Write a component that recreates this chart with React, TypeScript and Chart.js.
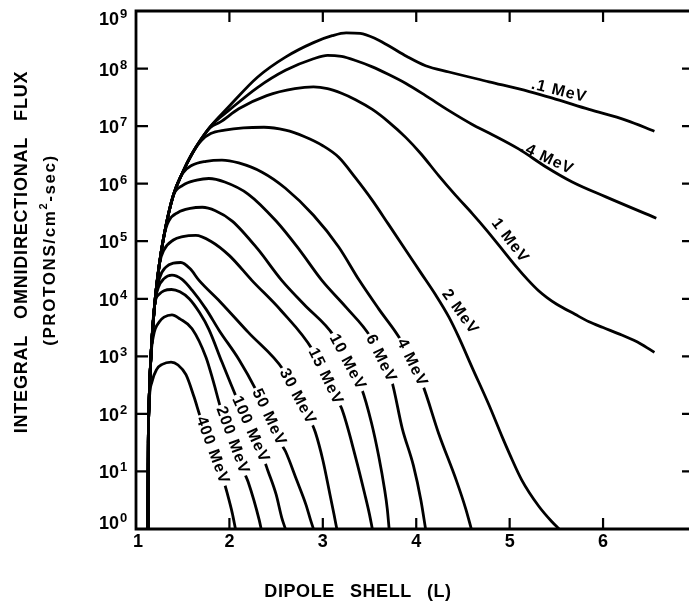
import React, { useEffect, useRef } from 'react';
import { Chart, registerables } from 'chart.js';

Chart.register(...registerables);

type Pt = [number, number];

// ---- data: [dipole shell L, integral omnidirectional flux (protons/cm^2-sec)] ----
const seriesNames = ['.1 MeV', '.4 MeV', '1 MeV', '2 MeV', '4 MeV', '6 MeV', '10 MeV', '15 MeV', '30 MeV', '50 MeV', '100 MeV', '200 MeV', '400 MeV'];

const mev0p1: Pt[] = [
  [1.128, 1], [1.132, 31.6], [1.14, 158], [1.16, 1.0e3], [1.2, 7.94e3], [1.25, 3.98e4], [1.3, 1.26e5], [1.4, 6.31e5],
  [1.5, 1.58e6], [1.6, 3.31e6], [1.7, 6.03e6], [1.8, 1.0e7], [2.0, 2.24e7], [2.3, 7.08e7], [2.6, 1.58e8], [2.9, 2.82e8],
  [3.1, 3.72e8], [3.25, 4.17e8], [3.4, 4.07e8], [3.55, 3.39e8], [3.7, 2.51e8], [3.9, 1.62e8], [4.1, 1.12e8],
  [4.35, 8.71e7], [4.78, 5.89e7], [5.21, 3.98e7], [5.45, 3.09e7], [5.85, 1.95e7], [6.25, 1.26e7], [6.55, 8.13e6],
];
const mev0p4: Pt[] = [
  [1.128, 1], [1.132, 31.6], [1.14, 158], [1.16, 1.0e3], [1.2, 7.94e3], [1.25, 3.98e4], [1.3, 1.26e5], [1.4, 6.31e5],
  [1.5, 1.58e6], [1.6, 3.31e6], [1.7, 6.03e6], [1.8, 1.0e7], [2.0, 1.91e7], [2.3, 4.68e7], [2.6, 9.33e7], [2.9, 1.48e8],
  [3.05, 1.7e8], [3.2, 1.62e8], [3.35, 1.38e8], [3.53, 1.07e8], [3.7, 7.94e7], [3.89, 5.5e7], [4.1, 3.39e7],
  [4.35, 1.86e7], [4.6, 1.07e7], [4.78, 7.59e6], [5.1, 3.98e6], [5.39, 1.95e6], [5.67, 1.07e6], [6.03, 5.89e5],
  [6.57, 2.51e5],
];
const mev1: Pt[] = [
  [1.128, 1], [1.132, 31.6], [1.14, 158], [1.16, 1.0e3], [1.2, 7.94e3], [1.25, 3.98e4], [1.3, 1.26e5], [1.4, 6.31e5],
  [1.5, 1.58e6], [1.6, 3.31e6], [1.7, 6.03e6], [1.8, 9.55e6], [1.9, 1.17e7], [2.1, 2.0e7], [2.4, 3.39e7], [2.7, 4.47e7],
  [2.9, 4.79e7], [3.05, 4.47e7], [3.2, 3.72e7], [3.35, 2.88e7], [3.53, 1.95e7], [3.7, 1.2e7], [3.89, 6.31e6],
  [4.05, 3.31e6], [4.24, 1.38e6], [4.42, 6.31e5], [4.6, 3.02e5], [4.75, 1.58e5], [4.89, 8.32e4], [5.07, 3.63e4],
  [5.2, 2.09e4], [5.31, 1.38e4], [5.4, 1.05e4], [5.5, 8.13e3], [5.7, 5.37e3], [5.85, 3.98e3], [6.0, 3.16e3],
  [6.2, 2.34e3], [6.4, 1.66e3], [6.55, 1.17e3],
];
const mev2: Pt[] = [
  [1.128, 1], [1.132, 31.6], [1.14, 158], [1.16, 1.0e3], [1.2, 7.94e3], [1.25, 3.98e4], [1.3, 1.26e5], [1.4, 6.31e5],
  [1.5, 1.58e6], [1.6, 3.31e6], [1.7, 5.62e6], [1.8, 7.41e6], [1.95, 8.51e6], [2.15, 9.33e6], [2.37, 9.55e6],
  [2.6, 8.51e6], [2.8, 6.61e6], [3.0, 4.57e6], [3.17, 2.88e6], [3.35, 1.26e6], [3.53, 5.13e5], [3.7, 2.0e5],
  [3.89, 6.92e4], [4.05, 2.82e4], [4.21, 1.15e4], [4.35, 4.79e3], [4.45, 2.24e3], [4.6, 6.31e2], [4.78, 1.41e2],
  [4.92, 39.8], [5.0, 20.0], [5.13, 7.08], [5.31, 2.51], [5.45, 1.35], [5.53, 1],
];
const mev4: Pt[] = [
  [1.128, 1], [1.132, 31.6], [1.14, 158], [1.16, 1.0e3], [1.2, 7.94e3], [1.25, 3.98e4], [1.3, 1.26e5], [1.4, 6.31e5],
  [1.5, 1.51e6], [1.6, 2.09e6], [1.75, 2.45e6], [1.92, 2.57e6], [2.1, 2.29e6], [2.35, 1.58e6], [2.6, 8.32e5],
  [2.9, 2.82e5], [3.17, 7.94e4], [3.39, 2.09e4], [3.6, 6.61e3], [3.84, 1.86e3], [3.955, 7.76e2], [4.07, 3.16e2],
  [4.24, 45.7], [4.43, 6.92], [4.53, 2.24], [4.59, 1],
];
const mev6: Pt[] = [
  [1.128, 1], [1.132, 31.6], [1.14, 158], [1.16, 1.0e3], [1.2, 7.94e3], [1.25, 3.98e4], [1.3, 1.26e5], [1.4, 6.31e5],
  [1.5, 9.33e5], [1.65, 1.15e6], [1.78, 1.23e6], [1.95, 1.07e6], [2.2, 6.61e5], [2.5, 2.24e5], [2.75, 7.08e4],
  [2.99, 2.09e4], [3.25, 7.08e3], [3.509, 2.19e3], [3.623, 9.12e2], [3.738, 3.72e2], [3.85, 56.2], [3.97, 12.6],
  [4.05, 3.16], [4.1, 1],
];
const mev10: Pt[] = [
  [1.128, 1], [1.132, 31.6], [1.14, 158], [1.16, 1.0e3], [1.2, 7.94e3], [1.25, 3.98e4], [1.3, 1.26e5], [1.35, 2.24e5],
  [1.45, 3.16e5], [1.58, 3.72e5], [1.71, 3.89e5], [1.85, 3.39e5], [2.03, 2.24e5], [2.3, 7.41e4], [2.56, 2.09e4],
  [2.8, 7.94e3], [3.116, 2.29e3], [3.264, 7.94e2], [3.413, 2.82e2], [3.52, 70.8], [3.6, 17.8], [3.66, 5.01],
  [3.69, 2.24], [3.71, 1],
];
const mev15: Pt[] = [
  [1.128, 1], [1.132, 31.6], [1.14, 158], [1.16, 1.0e3], [1.2, 7.94e3], [1.25, 3.98e4], [1.3, 7.08e4], [1.4, 1.05e5],
  [1.5, 1.2e5], [1.64, 1.26e5], [1.8, 1.0e5], [2.0, 5.62e4], [2.24, 2.09e4], [2.55, 6.31e3], [2.891, 1.29e3],
  [3.029, 4.47e2], [3.167, 1.55e2], [3.2, 1.26e2], [3.35, 17.8], [3.45, 3.98], [3.5, 1.78], [3.53, 1],
];
const mev30: Pt[] = [
  [1.128, 1], [1.132, 31.6], [1.14, 158], [1.16, 1.0e3], [1.2, 7.94e3], [1.25, 2.24e4], [1.32, 3.55e4], [1.4, 4.17e4],
  [1.48, 4.27e4], [1.58, 3.31e4], [1.675, 2.09e4], [1.9, 8.91e3], [2.2, 2.63e3], [2.58, 5.75e2], [2.729, 2.0e2],
  [2.878, 70.8], [2.92, 47.9], [3.0, 15.8], [3.07, 4.47], [3.12, 1.78], [3.15, 1],
];
const mev50: Pt[] = [
  [1.128, 1], [1.132, 31.6], [1.14, 158], [1.16, 1.0e3], [1.2, 7.94e3], [1.24, 1.58e4], [1.3, 2.24e4], [1.385, 2.57e4],
  [1.49, 2.19e4], [1.6, 1.41e4], [1.75, 6.61e3], [1.89, 2.82e3], [2.1, 8.91e2], [2.29, 2.51e2], [2.424, 87.1],
  [2.558, 29.5], [2.6, 22.4], [2.72, 7.08], [2.82, 2.63], [2.87, 1.41], [2.9, 1],
];
const mev100: Pt[] = [
  [1.128, 1], [1.132, 31.6], [1.14, 158], [1.16, 1.0e3], [1.2, 7.94e3], [1.25, 1.2e4], [1.3, 1.38e4], [1.38, 1.45e4],
  [1.47, 1.32e4], [1.57, 1.0e4], [1.68, 5.75e3], [1.78, 2.95e3], [1.92, 7.94e2], [2.074, 1.95e2], [2.226, 53.7],
  [2.378, 14.8], [2.41, 10.5], [2.5, 3.98], [2.56, 1.58], [2.6, 1],
];
const mev200: Pt[] = [
  [1.128, 1], [1.132, 31.6], [1.14, 158], [1.16, 1.0e3], [1.19, 2.4e3], [1.25, 3.98e3], [1.3, 4.79e3], [1.385, 5.25e3],
  [1.47, 4.47e3], [1.6, 3.02e3], [1.75, 9.55e2], [1.83, 3.55e2], [1.905, 1.29e2], [2.033, 34.7], [2.162, 9.33],
  [2.2, 6.61], [2.32, 1.41], [2.34, 1],
];
const mev400: Pt[] = [
  [1.128, 1], [1.132, 31.6], [1.14, 141], [1.17, 3.55e2], [1.22, 5.89e2], [1.28, 7.24e2], [1.375, 7.94e2],
  [1.45, 7.08e2], [1.535, 4.79e2], [1.62, 2.0e2], [1.69, 87.1], [1.82, 23.4], [1.947, 6.17], [1.975, 4.27],
  [2.03, 1.91], [2.065, 1],
];

const allSeries: Pt[][] = [mev0p1, mev0p4, mev1, mev2, mev4, mev6, mev10, mev15, mev30, mev50, mev100, mev200, mev400];

// axis ticks
const shellTicks = [1, 2, 3, 4, 5, 6];
const fluxTicks = [1, 10, 100, 1e3, 1e4, 1e5, 1e6, 1e7, 1e8, 1e9];
const fluxTickExponents = ['0', '1', '2', '3', '4', '5', '6', '7', '8', '9'];

// where each curve is labelled (shell, flux)
const labelShell = [5.53, 5.4, 5.004, 4.469, 3.955, 3.623, 3.264, 3.029, 2.729, 2.424, 2.226, 2.033, 1.819];
const labelFlux = [4.07e7, 2.75e6, 1.02e5, 5.89e3, 7.76e2, 9.12e2, 7.94e2, 4.47e2, 2.0e2, 87.1, 53.7, 34.7, 23.2];
const labelStyle = {
  angle: [14, 25, 53, 54, 64, 64, 62, 64, 62, 65, 66, 70, 70],
  breaksLine: [false, false, false, false, true, true, true, true, true, true, true, true, true],
};

const FONT = '"Liberation Sans", Arial, Helvetica, sans-serif';

function drawWords(ctx: CanvasRenderingContext2D, words: string[], center: number, y: number, gap: number) {
  const widths = words.map((w) => ctx.measureText(w).width);
  const total = widths.reduce((a, b) => a + b, 0) + gap * (words.length - 1);
  let x = center - total / 2;
  ctx.textAlign = 'left';
  words.forEach((w, i) => {
    ctx.fillText(w, x, y);
    x += widths[i] + gap;
  });
}

const decorPlugin = {
  id: 'decor',
  afterDatasetsDraw(chart: any) {
    const ctx = chart.ctx as CanvasRenderingContext2D;
    const xs = chart.scales.x;
    const ys = chart.scales.y;
    const { left, right, top, bottom } = chart.chartArea;
    ctx.save();

    // curve labels
    ctx.font = `bold 16px ${FONT}`;
    (ctx as any).letterSpacing = '1px';
    ctx.textBaseline = 'middle';
    ctx.textAlign = 'center';
    const placed = seriesNames.map((name, i) => ({
      name,
      x: xs.getPixelForValue(labelShell[i]),
      y: ys.getPixelForValue(labelFlux[i]),
      a: (labelStyle.angle[i] * Math.PI) / 180,
      w: ctx.measureText(name).width,
      brk: labelStyle.breaksLine[i],
    }));
    placed.forEach((p) => {
      if (!p.brk) return;
      ctx.save();
      ctx.translate(p.x, p.y);
      ctx.rotate(p.a);
      ctx.fillStyle = '#fff';
      ctx.fillRect(-p.w / 2 - 2, -7.5, p.w + 4, 15);
      ctx.restore();
    });
    ctx.fillStyle = '#000';
    placed.forEach((p) => {
      ctx.save();
      ctx.translate(p.x, p.y);
      ctx.rotate(p.a);
      ctx.fillText(p.name, 0, 0);
      ctx.restore();
    });

    // frame
    ctx.strokeStyle = '#000';
    ctx.lineWidth = 2.8;
    ctx.lineCap = 'square';
    ctx.beginPath();
    ctx.moveTo(right + 4, top);
    ctx.lineTo(left, top);
    ctx.lineTo(left, bottom);
    ctx.lineTo(right + 4, bottom);
    ctx.stroke();

    // inward ticks
    ctx.lineWidth = 2.2;
    ctx.lineCap = 'butt';
    ctx.beginPath();
    shellTicks.forEach((v) => {
      if (v === 1) return;
      const x = xs.getPixelForValue(v);
      ctx.moveTo(x, bottom);
      ctx.lineTo(x, bottom - 11);
      ctx.moveTo(x, top);
      ctx.lineTo(x, top + 11);
    });
    fluxTicks.forEach((v, i) => {
      if (i === 0 || i === fluxTicks.length - 1) return;
      const y = ys.getPixelForValue(v);
      ctx.moveTo(left, y);
      ctx.lineTo(left + 12, y);
      ctx.moveTo(right, y);
      ctx.lineTo(right - 7, y);
    });
    ctx.stroke();

    // y tick labels 10^n
    ctx.fillStyle = '#000';
    ctx.textBaseline = 'alphabetic';
    (ctx as any).letterSpacing = '0px';
    fluxTicks.forEach((v, i) => {
      const y = ys.getPixelForValue(v);
      let base = y + 7;
      if (i === fluxTicks.length - 1) base = y + 14;
      if (i === 0) base = y;
      ctx.font = `bold 18px ${FONT}`;
      ctx.textAlign = 'right';
      ctx.fillText('10', 119, base);
      ctx.font = `bold 13px ${FONT}`;
      ctx.textAlign = 'left';
      ctx.fillText(fluxTickExponents[i], 120, base - 7);
    });

    // x tick labels
    ctx.font = `bold 18px ${FONT}`;
    ctx.textAlign = 'center';
    shellTicks.forEach((v) => {
      ctx.fillText(String(v), xs.getPixelForValue(v) + (v === 1 ? 2 : 0), 547);
    });

    // x title
    ctx.font = `bold 18px ${FONT}`;
    (ctx as any).letterSpacing = '0.6px';
    drawWords(ctx, ['DIPOLE', 'SHELL', '(L)'], 358, 597, 15);

    // y title (two rotated lines)
    ctx.save();
    ctx.translate(27, 252);
    ctx.rotate(-Math.PI / 2);
    ctx.font = `bold 18px ${FONT}`;
    (ctx as any).letterSpacing = '0.8px';
    drawWords(ctx, ['INTEGRAL', 'OMNIDIRECTIONAL', 'FLUX'], 0, 0, 16);
    ctx.restore();

    ctx.save();
    ctx.translate(55, 250);
    ctx.rotate(-Math.PI / 2);
    (ctx as any).letterSpacing = '1.6px';
    ctx.font = `bold 17px ${FONT}`;
    const p1 = '(PROTONS/cm';
    const p3 = '-sec)';
    const w1 = ctx.measureText(p1).width;
    const w3 = ctx.measureText(p3).width;
    ctx.font = `bold 11px ${FONT}`;
    const w2 = ctx.measureText('2').width;
    let x0 = -(w1 + w2 + w3) / 2;
    ctx.textAlign = 'left';
    ctx.font = `bold 17px ${FONT}`;
    ctx.fillText(p1, x0, 0);
    x0 += w1;
    ctx.font = `bold 11px ${FONT}`;
    ctx.fillText('2', x0, -8);
    x0 += w2;
    ctx.font = `bold 17px ${FONT}`;
    ctx.fillText(p3, x0, 0);
    ctx.restore();

    ctx.restore();
  },
};

export default function App() {
  const canvasRef = useRef<HTMLCanvasElement | null>(null);

  useEffect(() => {
    const canvas = canvasRef.current;
    if (!canvas) return;
    const chart = new Chart(canvas, {
      type: 'scatter',
      data: {
        datasets: allSeries.map((s, i) => ({
          label: seriesNames[i],
          data: s.map(([x, y]) => ({ x, y })),
          showLine: true,
          borderColor: '#000',
          backgroundColor: '#000',
          borderWidth: 2.8,
          pointRadius: 0,
          pointHoverRadius: 0,
          fill: false,
          cubicInterpolationMode: 'monotone' as const,
        })),
      },
      options: {
        responsive: false,
        maintainAspectRatio: false,
        animation: false,
        devicePixelRatio: 1,
        events: [],
        layout: { padding: { left: 136, top: 11, right: 0, bottom: 73 } },
        plugins: { legend: { display: false }, tooltip: { enabled: false } },
        scales: {
          x: { type: 'linear', min: 1, max: 6.92, display: false },
          y: { type: 'logarithmic', min: 1, max: 1e9, display: false },
        },
      },
      plugins: [decorPlugin],
    });
    return () => chart.destroy();
  }, []);

  return (
    <div style={{ position: 'fixed', left: 0, top: 0, width: 689, height: 602, background: '#fff' }}>
      <canvas ref={canvasRef} width={689} height={602} style={{ display: 'block', width: 689, height: 602 }} />
    </div>
  );
}
